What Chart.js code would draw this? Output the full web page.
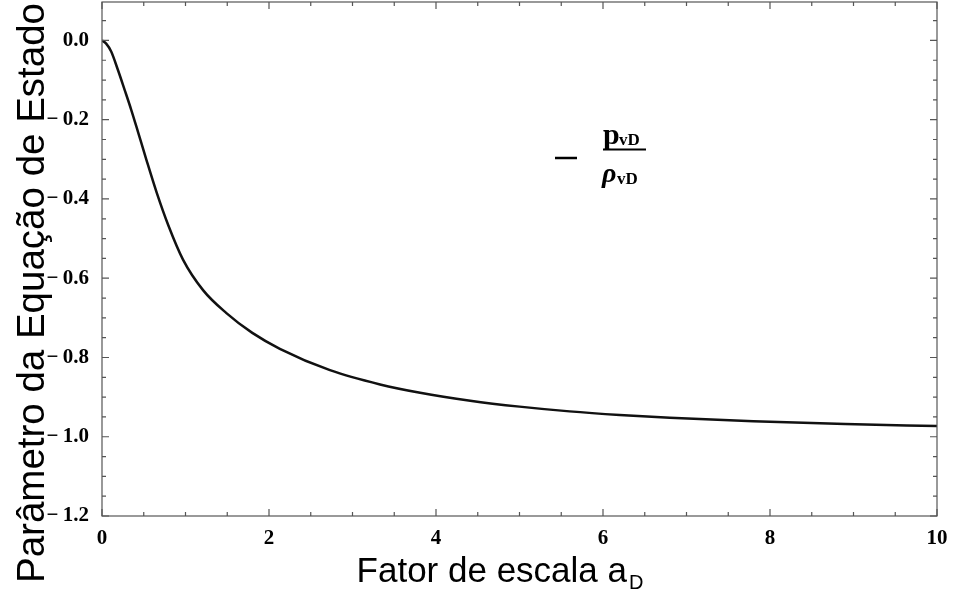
<!DOCTYPE html>
<html>
<head>
<meta charset="utf-8">
<script src="https://cdn.jsdelivr.net/npm/chart.js@4"></script>
<style>
  html, body { margin: 0; padding: 0; background: #fff; }
  #wrap { width: 954px; height: 595px; }
</style>
</head>
<body>
<div id="wrap"><canvas id="c" width="954" height="595"></canvas></div>
<script>
// valores
const fatorEscala = [0, 0.05, 0.11, 0.19, 0.27, 0.35, 0.43, 0.53, 0.655, 0.795, 0.97, 1.21, 1.49, 1.8, 2.13, 2.73, 3.33, 3.81, 4.41, 5.0, 5.6, 6.2, 6.8, 7.8, 8.9, 10];
const parametroW = [0, -0.008, -0.028, -0.074, -0.124, -0.175, -0.230, -0.300, -0.384, -0.467, -0.553, -0.630, -0.688, -0.738, -0.778, -0.832, -0.868, -0.889, -0.909, -0.924, -0.936, -0.945, -0.952, -0.961, -0.968, -0.973];
const xTicks = [0, 2, 4, 6, 8, 10];
const yTicks = [-1.2, -1.0, -0.8, -0.6, -0.4, -0.2, 0.0];

const pontos = fatorEscala.map((x, i) => ({ x: x, y: parametroW[i] }));

const tickFont = { family: 'Liberation Serif', size: 21, weight: 'bold' };

// moldura, ticks internos, titulos e legenda
const extras = {
  id: 'extras',
  afterDraw(chart) {
    const ctx = chart.ctx;
    const a = chart.chartArea;
    const xs = chart.scales.x, ys = chart.scales.y;
    ctx.save();
    ctx.strokeStyle = '#555';
    ctx.lineWidth = 1.2;
    ctx.strokeRect(a.left, a.top, a.right - a.left, a.bottom - a.top);

    // ticks no eixo x (menores a cada 0.5)
    for (let v = 0; v <= 10.001; v += 0.5) {
      const px = xs.getPixelForValue(v);
      const len = (Math.abs(v % 2) < 1e-6) ? 7 : 4;
      ctx.beginPath();
      ctx.moveTo(px, a.bottom); ctx.lineTo(px, a.bottom - len);
      ctx.moveTo(px, a.top); ctx.lineTo(px, a.top + len);
      ctx.stroke();
    }
    // ticks no eixo y (menores a cada 0.05)
    for (let k = 0; k <= 26; k++) {
      const v = -1.2 + k * 0.05;
      if (v > ys.max) break;
      const py = ys.getPixelForValue(v);
      const len = (k % 4 === 0) ? 7 : 4;
      ctx.beginPath();
      ctx.moveTo(a.left, py); ctx.lineTo(a.left + len, py);
      ctx.moveTo(a.right, py); ctx.lineTo(a.right - len, py);
      ctx.stroke();
    }

    ctx.fillStyle = '#000';
    // titulo eixo x com subscrito
    ctx.font = '35px "Liberation Sans", Arial, sans-serif';
    ctx.textBaseline = 'alphabetic';
    const t1 = 'Fator de escala a';
    const w1 = ctx.measureText(t1).width;
    ctx.font = '20px "Liberation Sans", Arial, sans-serif';
    const w2 = ctx.measureText('D').width;
    const cx = 500;
    const x0 = cx - (w1 + w2 + 2) / 2;
    ctx.font = '35px "Liberation Sans", Arial, sans-serif';
    ctx.textAlign = 'left';
    ctx.fillText(t1, x0, 582);
    ctx.font = '20px "Liberation Sans", Arial, sans-serif';
    ctx.fillText('D', x0 + w1 + 2, 589);

    // titulo eixo y
    ctx.save();
    ctx.translate(44, 293);
    ctx.rotate(-Math.PI / 2);
    ctx.font = '38.5px "Liberation Sans", Arial, sans-serif';
    ctx.textAlign = 'center';
    ctx.fillText('Parâmetro da Equação de Estado', 0, 0);
    ctx.restore();

    // legenda
    ctx.strokeStyle = '#000';
    ctx.lineWidth = 2.5;
    ctx.beginPath();
    ctx.moveTo(555, 158); ctx.lineTo(577, 158);
    ctx.stroke();
    ctx.textAlign = 'left';
    ctx.font = 'bold 30px "Liberation Serif", serif';
    ctx.fillText('p', 603, 144);
    ctx.font = 'bold 17px "Liberation Serif", serif';
    ctx.fillText('vD', 619, 145);
    ctx.lineWidth = 2;
    ctx.beginPath();
    ctx.moveTo(603, 149.5); ctx.lineTo(646, 149.5);
    ctx.stroke();
    ctx.font = 'bold italic 28px "Liberation Serif", serif';
    ctx.fillText('ρ', 602, 182);
    ctx.font = 'bold 17px "Liberation Serif", serif';
    ctx.fillText('vD', 617, 184);
    ctx.restore();
  }
};

new Chart(document.getElementById('c'), {
  type: 'line',
  data: {
    datasets: [{
      data: pontos,
      borderColor: '#111',
      borderWidth: 2.5,
      pointRadius: 0,
      fill: false,
      cubicInterpolationMode: 'monotone'
    }]
  },
  options: {
    responsive: false,
    animation: false,
    devicePixelRatio: 1,
    layout: { padding: { top: 2, right: 17, left: 0, bottom: 0 } },
    plugins: { legend: { display: false }, tooltip: { enabled: false } },
    scales: {
      x: {
        type: 'linear',
        min: 0, max: 10,
        grid: { display: false },
        border: { display: false },
        afterBuildTicks: s => { s.ticks = xTicks.map(v => ({ value: v })); },
        afterFit: s => { s.height = 79; s.paddingLeft = 0; s.paddingRight = 0; },
        ticks: {
          color: '#000', font: tickFont, padding: 2, maxRotation: 0,
          callback: v => String(v)
        }
      },
      y: {
        type: 'linear',
        min: -1.2, max: 0.097,
        grid: { display: false },
        border: { display: false },
        afterBuildTicks: s => { s.ticks = yTicks.map(v => ({ value: v })); },
        afterFit: s => { s.width = 102; s.paddingTop = 0; s.paddingBottom = 0; },
        ticks: {
          color: '#000', font: tickFont, padding: 5,
          callback: v => (v < 0 ? '\u2212\u2009' : '') + Math.abs(v).toFixed(1)
        }
      }
    }
  },
  plugins: [extras]
});
</script>
</body>
</html>
